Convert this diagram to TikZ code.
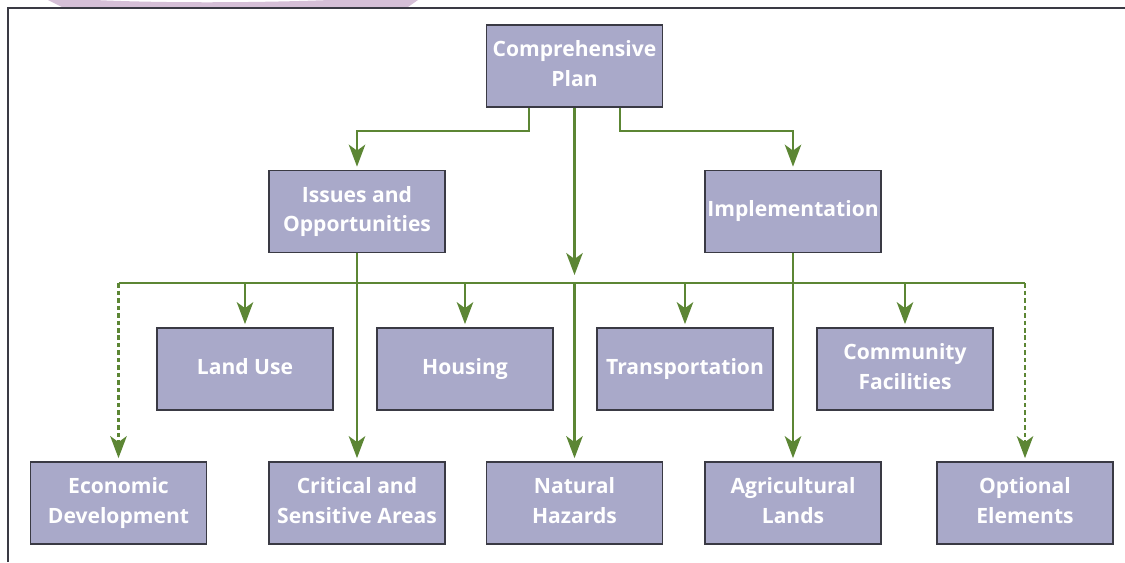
\documentclass[tikz,border=0pt]{standalone}
\usepackage{fontspec}
\setmainfont{Open Sans}
\usetikzlibrary{arrows.meta,positioning,calc}
\definecolor{ink}{HTML}{3A3A44}
\definecolor{boxfill}{HTML}{A9A9C9}
\definecolor{linkgreen}{HTML}{5C8634}
\definecolor{swoosh}{HTML}{D5BFD7}
\tikzset{
  every picture/.style={line join=miter},
  element/.style={
    draw=ink,
    fill=boxfill,
    line width=1pt,
    align=center,
    minimum width=3.52cm,
    minimum height=1.64cm,
    inner sep=1pt,
    text=white,
    font=\bfseries\fontsize{12}{17}\selectfont,
    execute at begin node=\vphantom{Ag},
    execute at end node=\vphantom{Ag}
  },
  link/.style={-{Stealth[length=4.4mm, width=3.3mm, inset=1.2mm, fill=linkgreen]},
    line width=1.2pt, draw=linkgreen, shorten >=0.6mm},
  bus/.style={line width=1.2pt, draw=linkgreen},
  optional/.style={link, dash pattern=on 0.9mm off 0.6mm},
  frame/.style={line width=1.4pt, draw=ink}
}
\begin{document}
\begin{tikzpicture}[x=0.02cm, y=-0.02cm]
  \useasboundingbox (0,0) rectangle (1125,562);

  % page decoration
  \fill[swoosh] (48,0) -- (62,7) -- (408,7) -- (418,0) -- (330,0)
    .. controls (250,3) and (160,3) .. (95,0) -- cycle;
  \draw[frame] (8,562) -- (8,8) -- (1125,8);

  % top levels
  \node[element] (plan) at (574.5,66) {Comprehensive\\Plan};
  \node[element] (issues) at (357,211.5) {Issues and\\Opportunities};
  \node[element] (impl) at (793,211.5) {Implementation};

  % required elements
  \node[element] (landuse) at (245,369) {Land Use};
  \node[element] (housing) at (465,369) {Housing};
  \node[element] (transport) at (685,369) {Transportation};
  \node[element] (community) at (905,369) {Community\\Facilities};

  \node[element] (econ) at (118.5,503) {Economic\\Development};
  \node[element] (critical) at (357,503) {Critical and\\Sensitive Areas};
  \node[element] (hazards) at (574.5,503) {Natural\\Hazards};
  \node[element] (agri) at (793,503) {Agricultural\\Lands};
  \node[element] (opt) at (1025,503) {Optional\\Elements};

  % connectors
  \coordinate (busL) at (118.5,283);
  \coordinate (busR) at (1025,283);
  \draw[bus] (busL) -- (busR);

  \draw[link] ([xshift=-0.91cm]plan.south) -- ++(0,23) -| (issues.north);
  \draw[link] ([xshift=0.91cm]plan.south) -- ++(0,23) -| (impl.north);
  \draw[link] (plan.south) -- ([yshift=0.1cm]plan.south |- busL);

  \foreach \n in {landuse,housing,transport,community}
    \draw[link] (\n.north |- busL) -- (\n.north);

  \draw[optional] (busL) -- (econ.north);
  \draw[optional] (busR) -- (opt.north);

  \draw[link] (issues.south) -- (critical.north);
  \draw[link] (plan.south |- busL) -- (hazards.north);
  \draw[link] (impl.south) -- (agri.north);
\end{tikzpicture}
\end{document}
